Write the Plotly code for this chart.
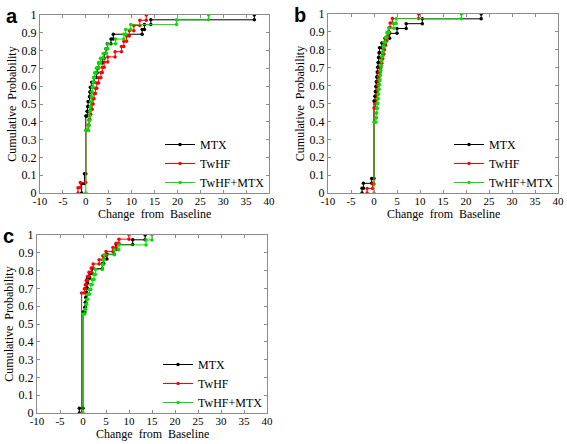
import plotly.graph_objects as go

# ---------------- data (sample values of change from baseline) ----------------
series_names = ["MTX", "TwHF", "TwHF+MTX"]
series_colors = ["#000000", "#ff0000", "#00e000"]

a_mtx = [-0.9, -0.9, -0.3, -0.3] + [0] * 12 + [0.3, 0.4, 0.5, 0.8, 0.9, 1.0, 1.3, 1.8, 2.3, 2.5, 2.8, 3.6, 4.0, 4.4, 4.7, 5.5, 6.0, 12.3, 12.8, 14.2, 36.8]
a_twhf = [-1.7, -1.2] + [0] * 10 + [0.5, 0.7, 0.9, 1.1, 1.4, 1.6, 1.8, 2.1, 2.4, 2.8, 3.3, 3.6, 4.0, 4.8, 6.4, 7.8, 8.3, 8.9, 9.5, 10.5, 11.8, 13.2]
a_combo = [0] * 13 + [0.6, 0.7, 0.8, 0.9, 1.0, 1.1, 1.2, 1.3, 1.4, 1.6, 1.7, 1.9, 2.3, 2.8, 3.2, 3.8, 4.4, 4.8, 6.5, 8.3, 8.7, 9.8, 19.8, 26.8]

b_mtx = [-2.6, -2.3, -0.5] + [0] * 16 + [0.2, 0.3, 0.4, 0.5, 0.6, 0.7, 0.8, 0.9, 1.0, 1.1, 1.2, 1.7, 2.4, 3.4, 5.0, 7.0, 10.5, 23.3]
b_twhf = [-1.5, -0.3] + [0] * 17 + [0.3, 0.5, 0.6, 0.7, 0.8, 0.9, 1.0, 1.1, 1.3, 1.5, 1.7, 1.9, 2.1, 2.3, 2.5, 2.8, 3.0, 3.3, 3.5, 4.0, 9.7]
b_combo = [0] * 15 + [0.4, 0.5, 0.6, 0.7, 0.8, 0.9, 1.0, 1.1, 1.2, 1.3, 1.4, 1.5, 1.6, 1.7, 1.9, 2.0, 2.2, 2.5, 2.8, 3.2, 4.3, 4.8, 19.0]

c_mtx = [-0.8] + [0] * 20 + [0.4, 0.5, 0.6, 0.7, 0.8, 0.9, 1.0, 1.5, 2.0, 4.2, 4.5, 5.2, 6.8, 7.2, 10.8, 13.5]
c_twhf = [-0.3] * 29 + [0.3, 0.5, 0.7, 1.0, 1.3, 1.8, 2.2, 3.5, 4.3, 5.0, 6.5, 7.2, 7.8, 10.0]
c_combo = [0] * 20 + [0.4, 0.6, 0.8, 1.0, 1.4, 1.7, 2.0, 2.4, 2.7, 4.2, 4.4, 4.6, 6.8, 7.8, 13.7, 15.0]

panel_labels = ["a", "b", "c"]
x_title = "Change  from  Baseline"
y_title = "Cumulative  Probability"
x_ticks = [-10, -5, 0, 5, 10, 15, 20, 25, 30, 35, 40]
y_ticks = [0, 0.1, 0.2, 0.3, 0.4, 0.5, 0.6, 0.7, 0.8, 0.9, 1]
y_tick_text = ["0", "0.1", "0.2", "0.3", "0.4", "0.5", "0.6", "0.7", "0.8", "0.9", "1"]

panels = [[a_mtx, a_twhf, a_combo], [b_mtx, b_twhf, b_combo], [c_mtx, c_twhf, c_combo]]


def ecdf_stairs(vals):
    v = sorted(vals)
    n = len(v)
    xs, ys = [], []
    prev = 0.0
    for u in sorted(set(v)):
        F = sum(1 for t in v if t <= u) / n
        xs += [u, u]
        ys += [prev, F]
        prev = F
    return xs, ys


W, H = 567, 444
SERIF = "Liberation Serif"
FS = 11

# plot-area pixel boxes (left, right, top, bottom)
boxes = [(40, 269, 15, 193), (328, 558, 14, 193), (37, 267, 235, 413)]

fig = go.Figure()
layout = dict(
    width=W, height=H, margin=dict(l=0, r=0, t=0, b=0, autoexpand=False),
    paper_bgcolor="white", plot_bgcolor="white",
    font=dict(family=SERIF, size=FS, color="black"),
    annotations=[],
)

for i, (box, data) in enumerate(zip(boxes, panels)):
    l, r, t, b = box
    sfx = "" if i == 0 else str(i + 1)
    xa, ya = "x" + sfx, "y" + sfx
    lg = "legend" + sfx
    for name, col, vals in zip(series_names, series_colors, data):
        xs, ys = ecdf_stairs(vals)
        fig.add_trace(go.Scatter(
            x=xs, y=ys, mode="lines+markers", name=name,
            line=dict(color=col, width=1),
            marker=dict(color=col, size=3.5),
            xaxis=xa, yaxis=ya, legend=lg, showlegend=True,
        ))
    common = dict(showline=True, linecolor="#8c8c8c", linewidth=1, mirror="ticks",
                  ticks="inside", ticklen=3, tickcolor="#8c8c8c", showgrid=False,
                  zeroline=False, automargin=False,
                  tickfont=dict(family=SERIF, size=FS + 1, color="black"))
    layout["xaxis" + sfx] = dict(
        domain=[l / W, r / W], anchor=ya, range=[-10, 40],
        tickvals=x_ticks, ticktext=[str(v) for v in x_ticks],
        **common)
    layout["yaxis" + sfx] = dict(
        domain=[1 - b / H, 1 - t / H], anchor=xa, range=[0, 1.0],
        tickvals=y_ticks, ticktext=y_tick_text,
        title=dict(text=y_title, font=dict(family=SERIF, size=FS + 1), standoff=2),
        **common)
    layout[lg] = dict(
        x=(r + 1) / W, y=1 - (b + 4) / H, xanchor="right", yanchor="bottom",
        bgcolor="rgba(0,0,0,0)", borderwidth=0, tracegroupgap=0,
        font=dict(family=SERIF, size=FS + 1, color="black"), itemwidth=30,
    )
    # x-axis title
    layout["annotations"].append(dict(
        text=x_title, xref="paper", yref="paper",
        x=(l + r) / 2 / W, y=1 - (b + 21) / H, xanchor="center", yanchor="middle",
        showarrow=False, font=dict(family=SERIF, size=FS + 1, color="black"),
    ))
    # panel letter
    layout["annotations"].append(dict(
        text="<b>%s</b>" % panel_labels[i], xref="paper", yref="paper",
        x=(l - 36) / W, y=1 - (t - 12) / H, xanchor="left", yanchor="top",
        showarrow=False, font=dict(family="Liberation Sans", size=20, color="black"),
    ))

fig.update_layout(**layout)
for k in ["xaxis", "xaxis2", "xaxis3"]:
    fig.layout[k].tickfont.size = FS
    fig.layout[k].ticklabelstandoff = -2
fig.write_html("out.html", config={"displayModeBar": False},
               post_script="document.body.style.margin='0px';document.body.style.overflow='hidden';")
